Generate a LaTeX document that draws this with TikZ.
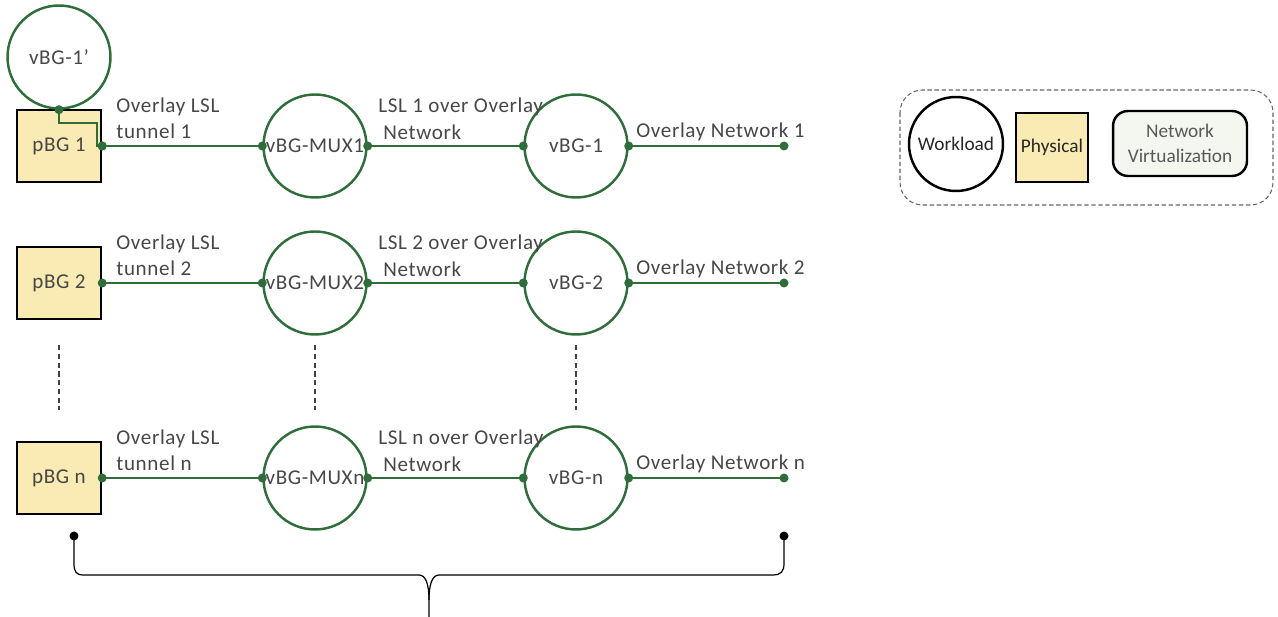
\documentclass[tikz,border=0pt]{standalone}
\usepackage{fontspec}
\setmainfont[LetterSpace=3]{Carlito}
\newfontfamily\legendfont{Carlito}
\usetikzlibrary{calc}
\definecolor{wire}{HTML}{2F6E3B}
\definecolor{phys}{HTML}{FAEAB4}
\definecolor{virt}{HTML}{F4F6F0}
\definecolor{ink}{HTML}{474747}
\begin{document}
\begin{tikzpicture}[x=0.02cm,y=-0.02cm,
  font=\fontsize{12}{14}\selectfont,
  wl/.style={circle,draw=wire,line width=1.4pt,minimum size=2.06cm,inner sep=0pt,text=ink},
  pbox/.style={rectangle,draw=black,line width=1.4pt,fill=phys,minimum width=1.68cm,minimum height=1.44cm,inner sep=0pt,text=ink},
  link/.style={draw=wire,line width=0.8pt},
  guide/.style={draw=black!75,line width=0.6pt,dash pattern=on 3pt off 2pt},
  lbl/.style={anchor=base west,inner sep=0pt,text=ink},
  legendframe/.style={draw=black!60,line width=0.6pt,dash pattern=on 2.5pt off 1.5pt,rounded corners=0.45cm},
  legendtext/.style={font=\legendfont\fontsize{11}{13}\selectfont},
]
\useasboundingbox (0,0) rectangle (1278,617);
\newcommand{\port}[1]{\fill[wire] (#1) circle[radius=0.09cm];}

% one chain per row: physical gateway -> MUX -> virtual gateway -> overlay network
\foreach \k/\y/\mux in {1/146/1, 2/283/2, n/478/n}{
  \node[pbox] (p\k) at (59,\y) {pBG \k};
  \node[wl] (m\k) at (315,\y) {vBG-MUX\mux};
  \node[wl] (v\k) at (576,\y) {vBG-\k};
  \coordinate (e\k) at (784,\y);
  \draw[link] (p\k.east) -- (m\k.west);
  \draw[link] (m\k.east) -- (v\k.west);
  \draw[link] (v\k.east) -- (e\k);
  \port{p\k.east}\port{m\k.west}\port{m\k.east}\port{v\k.west}\port{v\k.east}\port{e\k}
  \node[lbl] (ta\k) at (116,\y-33) {Overlay LSL};
  \node[lbl] (tb\k) at (116,\y-7) {tunnel \k};
  \node[lbl] (la\k) at (378,\y-33) {LSL \k\ over Overlay};
  \node[lbl] (lb\k) at (383,\y-6) {Network};
  \node[lbl] (on\k) at (636,\y-8) {Overlay Network \k};
}

% standby workload on top of pBG 1
\node[wl] (v1p) at (59,57) {vBG-1’};
\coordinate (bend) at (97,123);
\draw[link] (v1p.south) |- (bend) |- (p1.east);
\port{v1p.south}\port{p1.east}

% elision between row 2 and row n
\draw[guide] (59,345) -- (59,410);
\draw[guide] (315,345) -- (315,410);
\draw[guide] (576,345) -- (576,410);

% brace under the rows
\coordinate (bl) at (74,536);
\coordinate (br) at (784,536);
\coordinate (tip) at (429,617);
\draw[black,line width=0.7pt] (bl) -- (74,563) .. controls (74,572) and (76,575) .. (84,575)
  -- (419,575) .. controls (426,575) and (429,585) .. (429,600) -- (tip);
\draw[black,line width=0.7pt] (429,600) .. controls (429,585) and (432,575) .. (439,575)
  -- (772,575) .. controls (781,575) and (784,572) .. (784,563) -- (br);
\fill[black] (bl) circle[radius=0.09cm];
\fill[black] (br) circle[radius=0.09cm];

% legend
\draw[legendframe] (900,90) rectangle (1273,205);
\node[legendtext,circle,draw=black,line width=1.4pt,minimum size=1.88cm,inner sep=0pt,text=black!85] (lw) at (956,144) {Workload};
\node[legendtext,rectangle,draw=black,line width=1.4pt,fill=phys,minimum width=1.44cm,minimum height=1.38cm,inner sep=0pt,text=black!85] (lp) at (1052,147.5) {Physical};
\node[legendtext,rectangle,rounded corners=0.3cm,draw=black,line width=1.4pt,fill=virt,minimum width=2.68cm,minimum height=1.3cm,inner sep=0pt,align=center,text=black!65] (lv) at (1180,143.5) {Network\\[1pt]Virtualization};
\end{tikzpicture}
\end{document}
